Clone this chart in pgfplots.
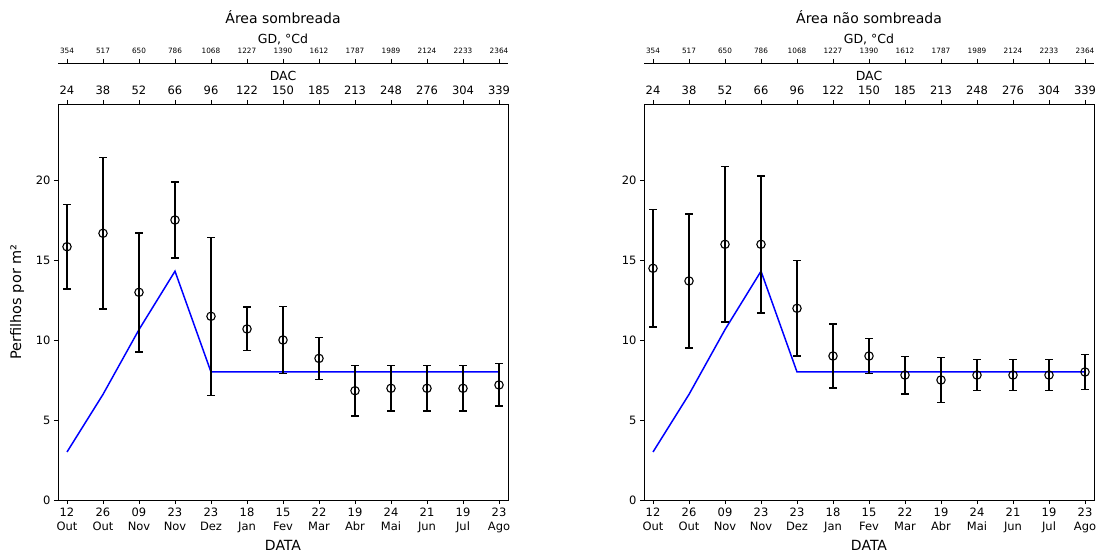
\documentclass[border=0pt]{standalone}
\usepackage{fontspec}
\setmainfont{DejaVu Sans}
\usepackage{pgfplots}
\usepackage{pgfplotstable}
\pgfplotsset{compat=1.18}

\newcommand\tl[2]{\begin{tabular}{@{}c@{}}#1\\[0.5pt]#2\end{tabular}}

\pgfplotstableread{
x y e
0 15.83 2.63
1 16.67 4.73
2 12.98 3.72
3 17.50 2.38
4 11.48 4.94
5 10.69 1.36
6 10.00 2.10
7 8.85 1.31
8 6.83 1.57
9 6.98 1.42
10 6.98 1.42
11 6.98 1.42
12 7.19 1.33
}\leftdata

\pgfplotstableread{
x y e
0 14.48 3.67
1 13.69 4.19
2 15.98 4.85
3 15.98 4.28
4 11.98 2.98
5 9.00 2.00
6 9.00 1.10
7 7.81 1.17
8 7.50 1.40
9 7.81 0.96
10 7.81 0.96
11 7.81 0.96
12 8.00 1.10
}\rightdata

\pgfplotstableread{
x y
0 3.0
1 6.6
2 10.65
3 14.3
4 8.0
5 8.0
6 8.0
7 8.0
8 8.0
9 8.0
10 8.0
11 8.0
12 8.0
}\modeldata

\pgfplotsset{
  panelbase/.style={
    scale only axis, width=450pt, height=396pt,
    xmin=-0.25, xmax=12.25, ymin=0, ymax=24.75,
    /pgf/number format/assume math mode=true,
    tick align=outside, major tick length=4pt,
    tick style={black, line width=0.8pt},
    axis line style={line width=0.8pt},
    xtick={0,...,12},
    tick label style={font=\fontsize{11.5}{13.5}\selectfont},
  },
  mainpanel/.style={
    panelbase,
    xtick pos=bottom, ytick pos=left,
    ytick={0,5,10,15,20},
    xticklabels={\tl{12}{Out},\tl{26}{Out},\tl{09}{Nov},\tl{23}{Nov},\tl{23}{Dez},\tl{18}{Jan},\tl{15}{Fev},\tl{22}{Mar},\tl{19}{Abr},\tl{24}{Mai},\tl{21}{Jun},\tl{19}{Jul},\tl{23}{Ago}},
    xticklabel style={font=\fontsize{11.5}{14}\selectfont, inner sep=2pt},
    xlabel={DATA},
    xlabel style={at={(axis description cs:0.5,-0.1136)}, anchor=center, font=\fontsize{14}{16}\selectfont},
  },
  dacpanel/.style={
    panelbase,
    axis x line*=top, axis y line=none,
    xticklabels={24,38,52,66,96,122,150,185,213,248,276,304,339},
    xticklabel style={yshift=2pt},
    xlabel={DAC},
    xlabel style={at={(axis description cs:0.5,1.0707)}, anchor=center, font=\fontsize{12.5}{14}\selectfont},
  },
  gdpanel/.style={
    panelbase,
    axis x line*=top, axis y line=none,
    xticklabels={354,517,650,786,1068,1227,1390,1612,1787,1989,2124,2233,2364},
    xticklabel style={font=\fontsize{7.3}{8}\selectfont, yshift=1.5pt},
    xlabel={GD, °Cd},
    xlabel style={at={(axis description cs:0.5,1.0606)}, anchor=center, font=\fontsize{12.5}{14}\selectfont},
    title style={at={(axis description cs:0.5,1.101)}, anchor=center, font=\fontsize{14}{16}\selectfont},
  },
  errstyle/.style={
    black, mark=o, mark size=4.2pt, line width=1.5pt, mark options={line width=1.1pt, black},
    only marks,
    error bars/.cd, y dir=both, y explicit,
    error bar style={line width=1.5pt, black},
    error mark options={line width=1.5pt, mark size=3.8pt, black, rotate=90},
  },
  modelstyle/.style={blue, line width=1.5pt, no markers},
}

\begin{document}
\begin{tikzpicture}
% ---------- left panel ----------
\begin{axis}[mainpanel, at={(58pt,54pt)}, anchor=south west,
  ylabel={Perfilhos por m²},
  ylabel style={at={(axis description cs:-0.0911,0.5)}, anchor=center, rotate=0, font=\fontsize{14.5}{16}\selectfont}]
  \addplot[modelstyle] table[x=x,y=y] {\modeldata};
  \addplot[errstyle] table[x=x,y=y,y error=e] {\leftdata};
\end{axis}
\begin{axis}[dacpanel, at={(58pt,54pt)}, anchor=south west]
\end{axis}
\begin{axis}[gdpanel, at={(58pt,95pt)}, anchor=south west, title={Área sombreada}]
\end{axis}
% ---------- right panel ----------
\begin{axis}[mainpanel, at={(644pt,54pt)}, anchor=south west]
  \addplot[modelstyle] table[x=x,y=y] {\modeldata};
  \addplot[errstyle] table[x=x,y=y,y error=e] {\rightdata};
\end{axis}
\begin{axis}[dacpanel, at={(644pt,54pt)}, anchor=south west]
\end{axis}
\begin{axis}[gdpanel, at={(644pt,95pt)}, anchor=south west, title={Área não sombreada}]
\end{axis}
\pgfresetboundingbox
\useasboundingbox (0,0) rectangle (1100pt,554pt);
\end{tikzpicture}
\end{document}
